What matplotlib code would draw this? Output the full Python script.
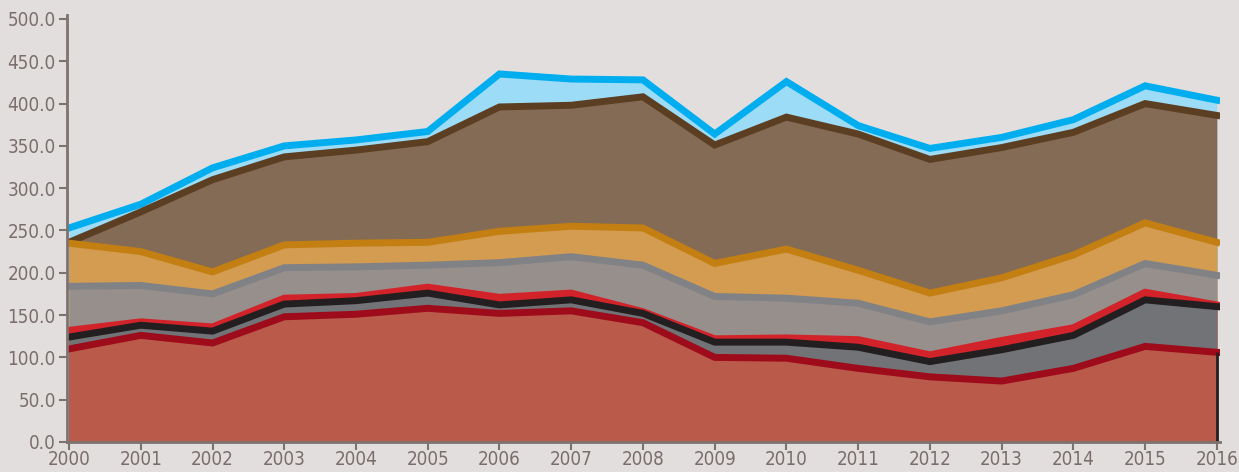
import numpy as np
import matplotlib
matplotlib.use("Agg")
import matplotlib.pyplot as plt

years = list(range(2000, 2017))

# layer tops (innermost first)
dark_red = [110, 126, 117, 148, 151, 158, 152, 155, 141, 100, 99, 87, 77, 72, 87, 113, 106]
black = [124, 138, 131, 163, 167, 176, 162, 168, 152, 118, 118, 112, 95, 109, 126, 168, 160]
bright_red = [132, 142, 136, 170, 172, 183, 171, 176, 154, 122, 123, 121, 103, 120, 135, 177, 162]
gray = [184, 185, 175, 206, 207, 209, 212, 219, 209, 172, 170, 164, 142, 155, 174, 211, 197]
tan = [235, 225, 201, 233, 235, 236, 249, 255, 253, 211, 228, 203, 176, 194, 221, 259, 236]
brown = [236, 272, 310, 337, 345, 355, 396, 398, 408, 351, 384, 364, 334, 348, 366, 400, 386]
blue = [253, 281, 324, 350, 357, 367, 435, 429, 428, 364, 426, 374, 347, 360, 381, 421, 404]

# (values, fill colour, line colour), outermost first
layers = [
    (blue, "#9ddcf6", "#00aeef"),
    (brown, "#846b55", "#5c3f22"),
    (tan, "#d39c50", "#c47f12"),
    (gray, "#978f8c", "#818285"),
    (bright_red, "#d2232a", "#d2232a"),
    (black, "#727377", "#231f20"),
    (dark_red, "#b95a4a", "#9e0b1a"),
]

bg = "#e1dedd"
axis_col = "#7d7270"
text_col = "#7a6e6c"

plt.rcParams["font.family"] = ["DejaVu Sans"]
plt.rcParams["font.stretch"] = "condensed"

fig = plt.figure(figsize=(12.39, 4.72), dpi=100, facecolor=bg)
ax = fig.add_axes([0.054, 0.0636, 0.931, 0.8962], facecolor=bg)

z = 1
for vals, fc, lc in layers:
    ax.fill_between(years, 0, vals, color=fc, lw=0, zorder=z)
    z += 1
for vals, fc, lc in layers:
    ax.plot(years, vals, color=lc, lw=5, solid_joinstyle="miter", zorder=z)
    z += 1

ax.vlines(years[-1], 0, dark_red[-1], color="#231f20", lw=2, zorder=z)

ax.set_xlim(1999.97, 2016.05)
ax.set_ylim(0, 500)
ax.set_xticks(years)
ax.set_yticks(np.arange(0, 501, 50))
ax.set_yticklabels([f"{v:.1f}" for v in np.arange(0, 501, 50)])

for s in ["top", "right"]:
    ax.spines[s].set_visible(False)
for s in ["left", "bottom"]:
    ax.spines[s].set_color(axis_col)
    ax.spines[s].set_linewidth(2)
    ax.spines[s].set_zorder(z + 1)
ax.spines["left"].set_bounds(0, 505)

ax.tick_params(axis="y", colors=axis_col, labelcolor=text_col, length=6, width=1.5,
               labelsize=13.5, pad=2)
ax.tick_params(axis="x", colors=axis_col, labelcolor=text_col, length=6, width=1.5,
               labelsize=13.5, pad=0)

fig.savefig("out.png", dpi=100, facecolor=bg)
